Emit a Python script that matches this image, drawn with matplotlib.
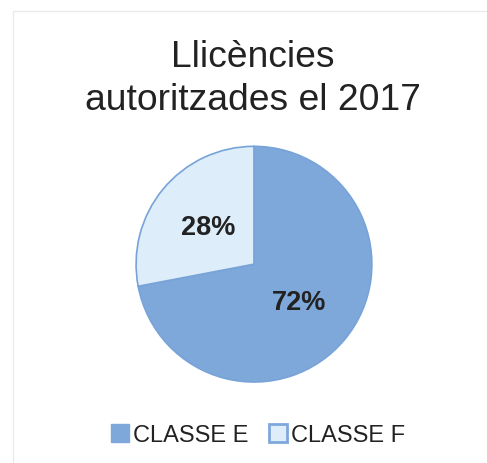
import matplotlib.pyplot as plt
from matplotlib.patches import Patch, Rectangle

# data
labels = ['CLASSE E', 'CLASSE F']
values = [72, 28]
colors = ['#7ea8da', '#ddedf9']

plt.rcParams['font.family'] = ['Liberation Sans', 'DejaVu Sans']

fig = plt.figure(figsize=(4.87, 4.64), dpi=100)

# faint scan frame
fig.patches.append(Rectangle((0.026, -0.1), 1.2, 1.075, transform=fig.transFigure,
                             fill=False, edgecolor='#ebebeb', lw=1))

fig.text(0.52, 0.876, 'Llicències', ha='center', va='center', fontsize=26.8, color='#222222')
fig.text(0.52, 0.783, 'autoritzades el 2017', ha='center', va='center', fontsize=26.8, color='#222222')

ax = fig.add_axes([0.277, 0.172, 0.489, 0.513])
wedges, texts, autotexts = ax.pie(values, colors=colors, startangle=90, counterclock=False,
                                  autopct='%d%%', pctdistance=0.5,
                                  wedgeprops=dict(edgecolor='#78a3d8', linewidth=1.2),
                                  textprops=dict(fontsize=19.5, fontweight='bold', color='#222222'))
ax.set_aspect('auto')
ax.set_xlim(-1.01, 1.01)
ax.set_ylim(-1.01, 1.01)

handles = [Patch(facecolor=colors[0], edgecolor=colors[0]),
           Patch(facecolor=colors[1], edgecolor='#7ea8da', linewidth=2)]
fig.legend(handles, labels, loc='center', bbox_to_anchor=(0.53, 0.06), ncol=2,
           frameon=False, fontsize=17, handlelength=0.75, handleheight=0.75,
           handletextpad=0.15, columnspacing=0.9, labelcolor='#222222')

fig.savefig('out.png', dpi=100)
